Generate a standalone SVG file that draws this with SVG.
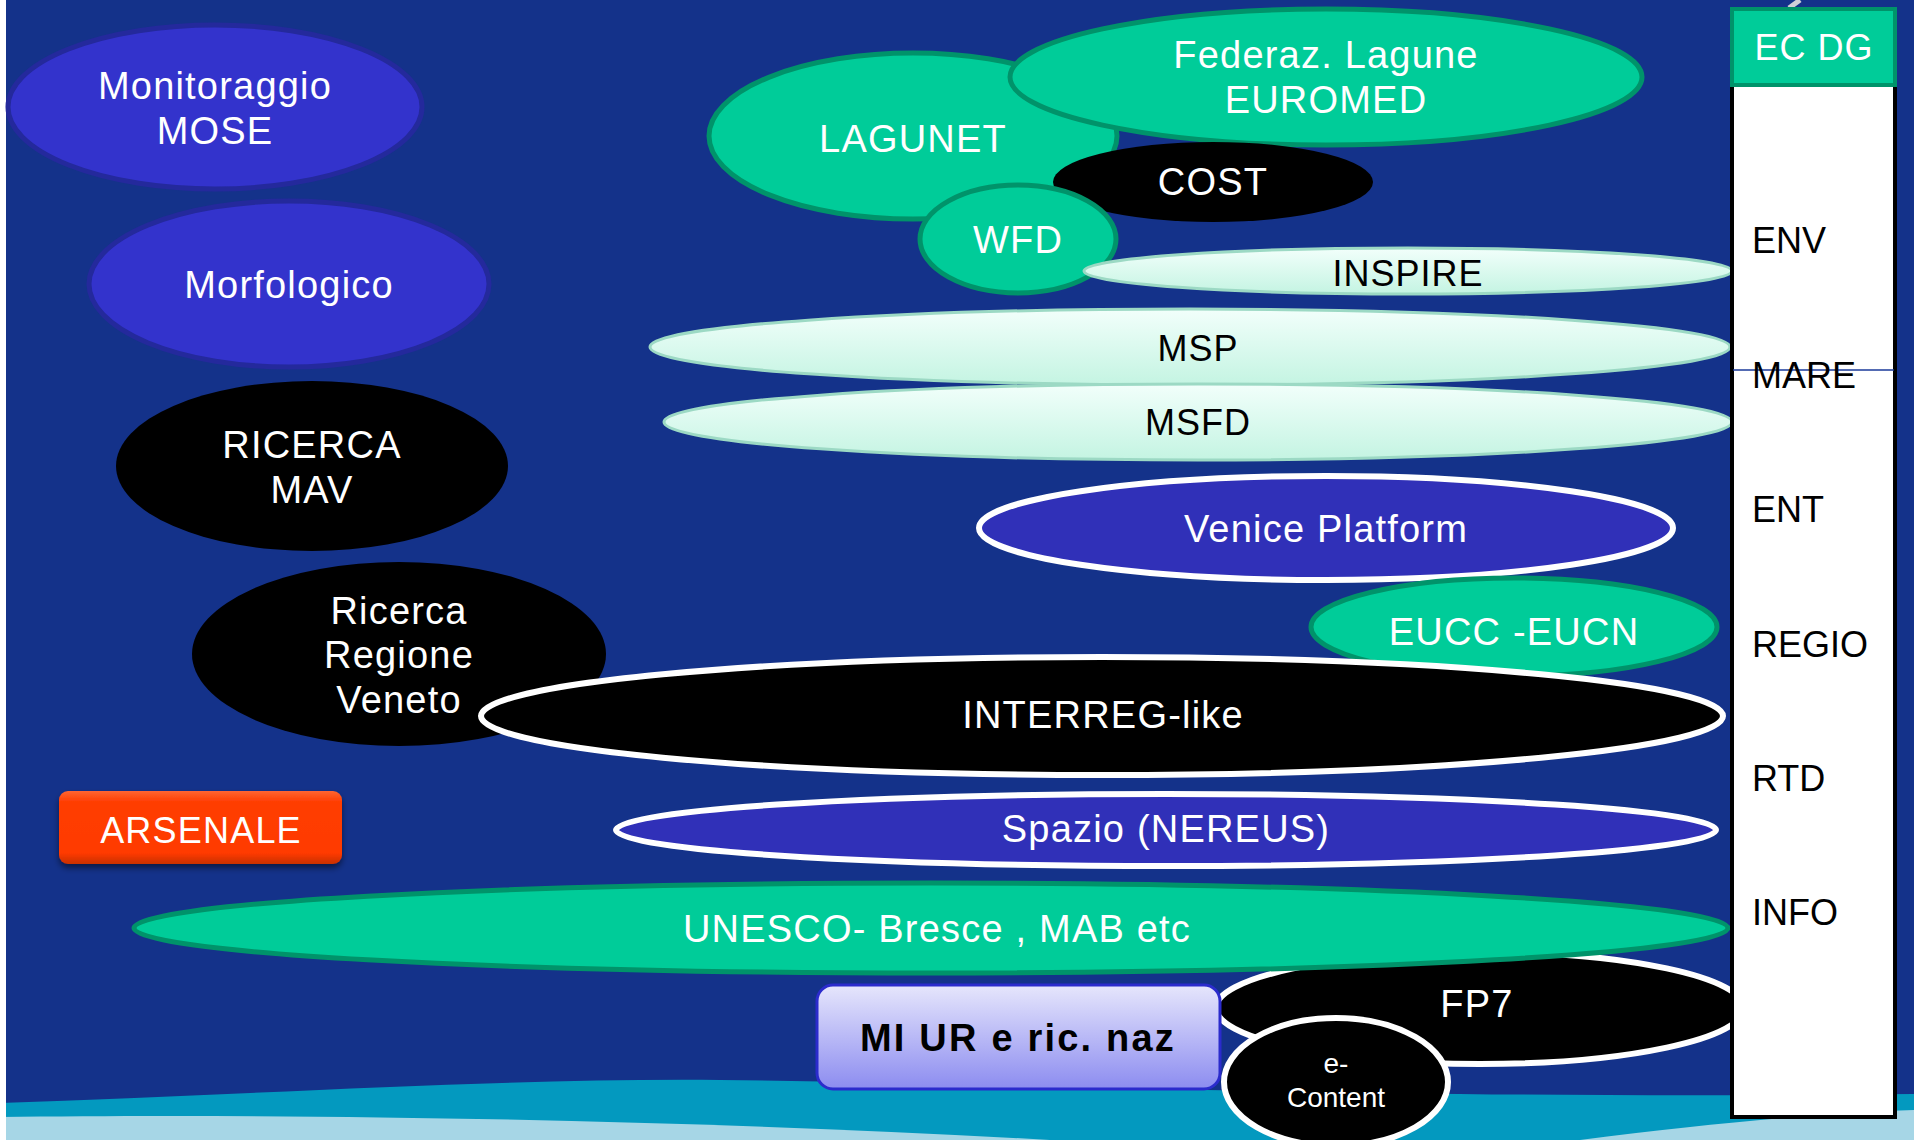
<svg xmlns="http://www.w3.org/2000/svg" width="1914" height="1140" viewBox="0 0 1914 1140">
<defs>
<linearGradient id="mint" x1="0" y1="0" x2="0" y2="1"><stop offset="0" stop-color="#F2FFFB"/><stop offset="1" stop-color="#C4F4E2"/></linearGradient>
<linearGradient id="miur" x1="0" y1="0" x2="0" y2="1"><stop offset="0" stop-color="#E6E6FC"/><stop offset="1" stop-color="#8C8CF0"/></linearGradient>
<linearGradient id="ars" x1="0" y1="0" x2="0" y2="1"><stop offset="0" stop-color="#FF6633"/><stop offset="0.15" stop-color="#FF3D00"/><stop offset="0.85" stop-color="#FF3A00"/><stop offset="1" stop-color="#C83000"/></linearGradient>
<filter id="sh" x="-10%" y="-20%" width="120%" height="150%"><feGaussianBlur in="SourceAlpha" stdDeviation="3"/><feOffset dy="4"/><feComponentTransfer><feFuncA type="linear" slope="0.5"/></feComponentTransfer><feMerge><feMergeNode/><feMergeNode in="SourceGraphic"/></feMerge></filter>
</defs>
<style>
text{font-family:"Liberation Sans",Arial,sans-serif;text-anchor:middle}
.w{fill:#fff;font-size:38px;letter-spacing:1.2px}
.k{fill:#000;font-size:36px;letter-spacing:1px}
.side{fill:#000;font-size:36px;text-anchor:start}
.blue{fill:#3333CC;stroke:#24299C;stroke-width:5}
.green{fill:#00CC99;stroke:#00936A;stroke-width:5}
.mint{fill:url(#mint);stroke:#9CD9C4;stroke-width:3}
.vb{fill:#3030B8;stroke:#fff;stroke-width:6}
.blk{fill:#000}
.blkw{fill:#000;stroke:#fff;stroke-width:6}
</style>
<rect x="0" y="0" width="1914" height="1140" fill="#14328A"/>
<path d="M0,1103 C250,1095 500,1078 720,1080 C1000,1083 1400,1100 1914,1094 L1914,1140 L0,1140 Z" fill="#0399BF"/>
<path d="M0,1117 C300,1113 700,1120 1050,1140 L0,1140 Z" fill="#A6D6E6"/>
<path d="M1580,1140 C1720,1122 1840,1112 1914,1110 L1914,1140 Z" fill="#A6D6E6"/>
<rect x="0" y="0" width="6" height="1140" fill="#fff"/>

<g id="connectors"></g>

<g id="monitoraggio"><ellipse class="blue" cx="215" cy="107" rx="207" ry="82"/><text class="w" x="215" y="99">Monitoraggio</text><text class="w" x="215" y="144">MOSE</text></g>
<g id="morfologico"><ellipse class="blue" cx="289" cy="284" rx="200" ry="83"/><text class="w" x="289" y="298">Morfologico</text></g>
<g id="ricerca-mav"><ellipse class="blk" cx="312" cy="466" rx="196" ry="85"/><text class="w" x="312" y="458">RICERCA</text><text class="w" x="312" y="503">MAV</text></g>
<g id="ricerca-regione"><ellipse class="blk" cx="399" cy="654" rx="207" ry="92"/><text class="w" x="399" y="624">Ricerca</text><text class="w" x="399" y="668">Regione</text><text class="w" x="399" y="713">Veneto</text></g>

<g id="lagunet"><ellipse class="green" cx="913" cy="136" rx="204" ry="83"/><text class="w" x="913" y="152">LAGUNET</text></g>
<g id="federaz"><ellipse class="green" cx="1326" cy="77" rx="316" ry="68"/><text class="w" x="1326" y="68">Federaz. Lagune</text><text class="w" x="1326" y="113">EUROMED</text></g>
<g id="cost"><ellipse class="blk" cx="1213" cy="182" rx="160" ry="40"/><text class="w" x="1213" y="195">COST</text></g>
<g id="wfd"><ellipse class="green" cx="1018" cy="239" rx="98" ry="54"/><text class="w" x="1018" y="253">WFD</text></g>
<g id="inspire"><ellipse class="mint" cx="1408" cy="271" rx="324" ry="23"/><text class="k" x="1408" y="286">INSPIRE</text></g>
<g id="msp"><ellipse class="mint" cx="1190" cy="347" rx="540" ry="38"/><text class="k" x="1198" y="361">MSP</text></g>
<g id="msfd"><ellipse class="mint" cx="1198" cy="422" rx="534" ry="38"/><text class="k" x="1198" y="435">MSFD</text></g>

<g id="venice"><ellipse class="vb" cx="1326" cy="528" rx="347" ry="52"/><text class="w" x="1326" y="542">Venice Platform</text></g>
<g id="eucc"><ellipse class="green" cx="1514" cy="627" rx="203" ry="49"/><text class="w" x="1514" y="645">EUCC -EUCN</text></g>
<g id="interreg"><ellipse class="blkw" cx="1102" cy="716" rx="621" ry="59"/><text class="w" x="1103" y="728">INTERREG-like</text></g>
<g id="spazio"><ellipse class="vb" cx="1166" cy="830" rx="550" ry="36"/><text class="w" x="1166" y="842">Spazio (NEREUS)</text></g>
<g id="arsenale"><rect x="59" y="791" width="283" height="73" rx="9" fill="url(#ars)" filter="url(#sh)"/><text class="w" x="201" y="843" style="font-size:36px">ARSENALE</text></g>

<g id="fp7"><ellipse class="blkw" cx="1480" cy="1008" rx="264" ry="56"/><text class="w" x="1477" y="1017">FP7</text></g>
<g id="unesco"><ellipse class="green" cx="931" cy="928" rx="797" ry="45"/><text class="w" x="937" y="942">UNESCO- Bresce , MAB etc</text></g>
<g id="miur"><rect x="817" y="985" width="403" height="104" rx="16" fill="url(#miur)" stroke="#2B2BCC" stroke-width="3"/><text x="1018" y="1051" style="font-size:38px;font-weight:bold;fill:#000;letter-spacing:2.2px">MI UR e ric. naz</text></g>
<g id="econtent"><ellipse class="blkw" cx="1336" cy="1082" rx="112" ry="64"/><text x="1336" y="1073" style="fill:#fff;font-size:28px">e-</text><text x="1336" y="1107" style="fill:#fff;font-size:28px">Content</text></g>

<g id="ecdg">
<line x1="1789" y1="8" x2="1800" y2="0" stroke="#D0D0D8" stroke-width="5"/>
<rect x="1732" y="10" width="163" height="1107" fill="#fff" stroke="#000" stroke-width="4"/>
<rect x="1732" y="9" width="163" height="76" fill="#00CC99" stroke="#00936A" stroke-width="4"/>
<text x="1814" y="60" style="fill:#fff;font-size:36px;letter-spacing:1px">EC DG</text>
<line x1="1733" y1="370" x2="1894" y2="370" stroke="#1A3A9A" stroke-width="1.5"/>
<text class="side" x="1752" y="253">ENV</text>
<text class="side" x="1752" y="388">MARE</text>
<text class="side" x="1752" y="522">ENT</text>
<text class="side" x="1752" y="657">REGIO</text>
<text class="side" x="1752" y="791">RTD</text>
<text class="side" x="1752" y="925">INFO</text>
</g>
</svg>
